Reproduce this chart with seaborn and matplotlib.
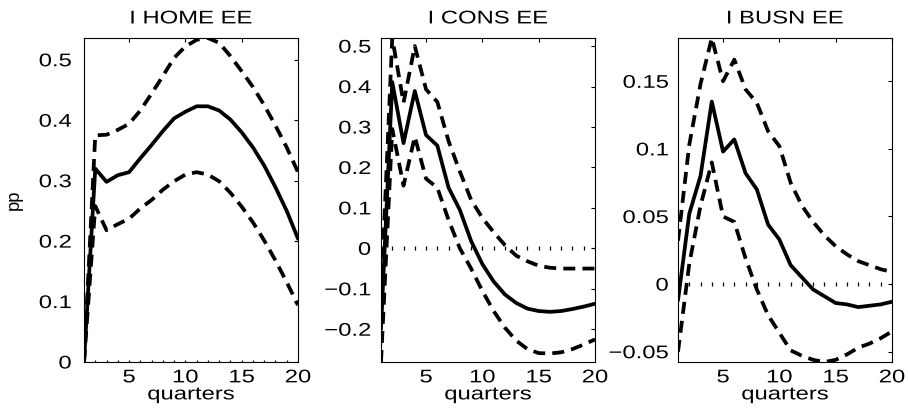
import numpy as np
import pandas as pd
import matplotlib
matplotlib.use("Agg")
import matplotlib.pyplot as plt
import seaborn as sns
from matplotlib.patheffects import AbstractPathEffect
from matplotlib.transforms import Affine2D
from matplotlib.path import Path

# ---------------- data ----------------
quarters = list(range(1, 21))

titles = ["I HOME EE", "I CONS EE", "I BUSN EE"]

home_mean = [0.0, 0.320, 0.298, 0.309, 0.314, 0.337, 0.359, 0.382, 0.403, 0.414,
             0.423, 0.423, 0.416, 0.401, 0.380, 0.355, 0.325, 0.289, 0.250, 0.204]
home_upper = [0.0, 0.375, 0.376, 0.384, 0.394, 0.416, 0.444, 0.473, 0.503, 0.522,
              0.533, 0.536, 0.528, 0.506, 0.481, 0.455, 0.425, 0.391, 0.355, 0.314]
home_lower = [0.0, 0.258, 0.218, 0.228, 0.237, 0.254, 0.268, 0.285, 0.299, 0.310,
              0.314, 0.310, 0.299, 0.280, 0.257, 0.231, 0.201, 0.168, 0.132, 0.094]

cons_mean = [-0.20, 0.411, 0.260, 0.389, 0.280, 0.254, 0.150, 0.095, 0.018, -0.039,
             -0.082, -0.114, -0.135, -0.149, -0.155, -0.157, -0.155, -0.150, -0.144, -0.137]
cons_upper = [-0.12, 0.520, 0.360, 0.500, 0.393, 0.362, 0.265, 0.190, 0.120, 0.075,
              0.040, 0.008, -0.018, -0.032, -0.043, -0.048, -0.050, -0.050, -0.050, -0.050]
cons_lower = [-0.281, 0.295, 0.155, 0.276, 0.172, 0.150, 0.070, 0.000, -0.050, -0.105,
              -0.155, -0.196, -0.228, -0.249, -0.259, -0.260, -0.257, -0.249, -0.238, -0.225]

busn_mean = [-0.012, 0.052, 0.080, 0.135, 0.098, 0.107, 0.082, 0.070, 0.044, 0.033,
             0.014, 0.005, -0.004, -0.009, -0.014, -0.015, -0.017, -0.016, -0.015, -0.013]
busn_upper = [0.032, 0.103, 0.148, 0.182, 0.150, 0.166, 0.144, 0.134, 0.113, 0.102,
              0.075, 0.058, 0.046, 0.036, 0.028, 0.022, 0.017, 0.014, 0.011, 0.009]
busn_lower = [-0.050, 0.015, 0.058, 0.090, 0.050, 0.046, 0.019, -0.004, -0.023, -0.036,
              -0.049, -0.053, -0.056, -0.0576, -0.056, -0.052, -0.047, -0.044, -0.040, -0.035]

zero_line = [0.0] * 20

xtick_values = [5, 10, 15, 20]
xtick_labels = ["5", "10", "15", "20"]

home_yticks = [0, 0.1, 0.2, 0.3, 0.4, 0.5]
home_ytick_labels = ["0", "0.1", "0.2", "0.3", "0.4", "0.5"]
cons_yticks = [-0.2, -0.1, 0, 0.1, 0.2, 0.3, 0.4, 0.5]
cons_ytick_labels = ["\u22120.2", "\u22120.1", "0", "0.1", "0.2", "0.3", "0.4", "0.5"]
busn_yticks = [-0.05, 0, 0.05, 0.1, 0.15]
busn_ytick_labels = ["\u22120.05", "0", "0.05", "0.1", "0.15"]

panels = [
    (home_mean, home_upper, home_lower, home_yticks, home_ytick_labels),
    (cons_mean, cons_upper, cons_lower, cons_yticks, cons_ytick_labels),
    (busn_mean, busn_upper, busn_lower, busn_yticks, busn_ytick_labels),
]


# horizontal stretch of text glyphs (the reference text is drawn wide)
class HStretch(AbstractPathEffect):
    def __init__(self, sx, anchor="center"):
        super().__init__()
        self.sx = sx
        self.anchor = anchor

    def draw_path(self, renderer, gc, tpath, affine, rgbFace=None):
        verts = affine.transform(tpath.vertices)
        if tpath.codes is not None:
            verts = verts[tpath.codes != Path.CLOSEPOLY]
        if len(verts) == 0:
            renderer.draw_path(gc, tpath, affine, rgbFace)
            return
        x0, x1 = verts[:, 0].min(), verts[:, 0].max()
        a = {"center": 0.5 * (x0 + x1), "right": x1, "left": x0}[self.anchor]
        new_aff = affine + Affine2D().translate(-a, 0).scale(self.sx, 1).translate(a, 0)
        renderer.draw_path(gc, tpath, new_aff, rgbFace)


# ---------------- style ----------------
sns.set_theme(style="white")
plt.rcParams["font.family"] = ["Liberation Sans", "DejaVu Sans"]
plt.rcParams["axes.edgecolor"] = "black"
plt.rcParams["axes.linewidth"] = 0.8

W, H = 908, 413
fig = plt.figure(figsize=(W / 100, H / 100), dpi=100)

lefts_px = [84, 381, 678]
width_px = 214
top_px, bottom_px = 38, 362
ypads = [9.0, 7.2, 6.8]

FS = 13.2
SX = 1.3
LW = 2.7
DASH = (3.2, 1.9)

for i, (mean, upper, lower, yt, ytl) in enumerate(panels):
    ax = fig.add_axes([lefts_px[i] / W, 1 - bottom_px / H,
                       width_px / W, (bottom_px - top_px) / H])
    # zero reference marks
    ax.plot(quarters, zero_line, linestyle="none", marker="|", markersize=3.2,
            markeredgewidth=0.9, color="black")
    sns.lineplot(x=quarters, y=upper, ax=ax, color="black", linewidth=LW,
                 linestyle=(0, DASH))
    sns.lineplot(x=quarters, y=lower, ax=ax, color="black", linewidth=LW,
                 linestyle=(0, DASH))
    sns.lineplot(x=quarters, y=mean, ax=ax, color="black", linewidth=LW)

    ymin = min(min(mean), min(upper), min(lower))
    ymax = max(max(mean), max(upper), max(lower))
    ax.set_xlim(1, 20)
    ax.set_ylim(ymin, ymax)
    ax.set_xticks(xtick_values)
    ax.set_xticklabels(xtick_labels)
    ax.set_yticks(yt)
    ax.set_yticklabels(ytl)
    ax.tick_params(axis="both", direction="in", length=3, width=0.8,
                   top=True, right=True, labelsize=FS, colors="black")
    ax.tick_params(axis="x", pad=5.3)
    ax.tick_params(axis="y", pad=ypads[i])
    for sp in ax.spines.values():
        sp.set_visible(True)
        sp.set_color("black")
        sp.set_linewidth(0.8)
    t = ax.set_title(titles[i], fontsize=FS, pad=10.5, color="black")
    t.set_path_effects([HStretch(SX, "center")])
    xl = ax.set_xlabel("quarters", fontsize=FS, labelpad=0.0, color="black")
    xl.set_path_effects([HStretch(SX, "center")])
    for lab in ax.get_xticklabels():
        lab.set_path_effects([HStretch(SX, "center")])
    for lab in ax.get_yticklabels():
        lab.set_path_effects([HStretch(SX, "right")])
    if i == 0:
        ax.set_ylabel("pp", fontsize=FS, color="black")
        ax.yaxis.set_label_coords(-0.285, 0.5)
    else:
        ax.set_ylabel("")
    ax.grid(False)

fig.savefig("out.png", dpi=100)
